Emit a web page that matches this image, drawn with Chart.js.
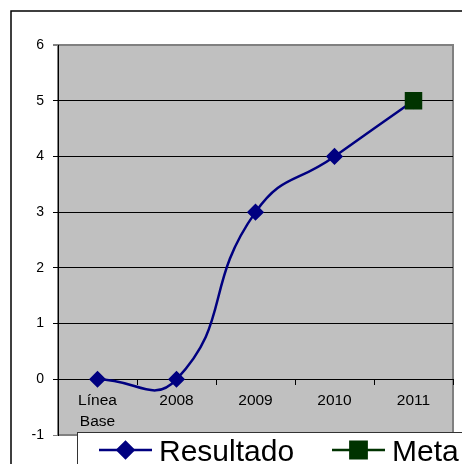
<!DOCTYPE html>
<html>
<head>
<meta charset="utf-8">
<script src="https://cdn.jsdelivr.net/npm/chart.js@4.4.0/dist/chart.umd.min.js"></script>
<style>
  html, body { margin: 0; padding: 0; background: #fff; }
  #wrap { width: 462px; height: 464px; position: relative; }
</style>
</head>
<body>
<div id="wrap"><canvas id="chart" width="462" height="464"></canvas></div>
<script>
const categories = [["Línea", "Base"], "2008", "2009", "2010", "2011"];
const resultado = [0, 0, 3, 4, 5];
const meta = [null, null, null, null, 5];
const yTicks = [-1, 0, 1, 2, 3, 4, 5, 6];

const NAVY = "#000080";
const GREEN = "#003300";

// plot background, outer frame and the grey border round the plot
const framePlugin = {
  id: "frame",
  beforeDraw(chart) {
    const { ctx, chartArea: a } = chart;
    ctx.save();
    ctx.strokeStyle = "#000";
    ctx.lineWidth = 1.5;
    ctx.strokeRect(11, 11, 600, 600);
    ctx.fillStyle = "#C0C0C0";
    ctx.fillRect(a.left, a.top, a.right - a.left, a.bottom - a.top);
    ctx.strokeStyle = "#808080";
    ctx.lineWidth = 2;
    ctx.strokeRect(a.left, a.top, a.right - a.left, a.bottom - a.top);
    ctx.restore();
  }
};

// boxed legend at the bottom, partly cut off like the original
const legendPlugin = {
  id: "boxLegend",
  afterDraw(chart) {
    const { ctx } = chart;
    ctx.save();
    ctx.fillStyle = "#fff";
    ctx.fillRect(77.5, 432.5, 500, 100);
    ctx.strokeStyle = "#333";
    ctx.lineWidth = 1;
    ctx.strokeRect(77.5, 432.5, 500, 100);

    const items = [
      { ds: chart.data.datasets[1], x: 99 },
      { ds: chart.data.datasets[0], x: 332 }
    ];
    const y = 450;
    items.forEach(({ ds, x }) => {
      ctx.strokeStyle = ds.borderColor;
      ctx.lineWidth = 2.5;
      ctx.beginPath();
      ctx.moveTo(x, y);
      ctx.lineTo(x + 53, y);
      ctx.stroke();
      Chart.helpers.drawPoint(ctx, {
        pointStyle: ds.pointStyle,
        radius: ds.pointStyle === "rect" ? 11.5 : 8,
        borderWidth: 1
      }, x + 26.5, y);
      ctx.fillStyle = ds.pointBackgroundColor;
      ctx.fill();
      ctx.fillStyle = "#000";
      ctx.font = "30px Arial, 'Liberation Sans', sans-serif";
      ctx.textBaseline = "alphabetic";
      ctx.fillText(ds.label, x + 60, 461);
    });
    ctx.restore();
  }
};

new Chart(document.getElementById("chart"), {
  type: "line",
  data: {
    labels: categories,
    datasets: [
      {
        label: "Meta",
        data: meta,
        borderColor: GREEN,
        backgroundColor: GREEN,
        pointBackgroundColor: GREEN,
        pointBorderColor: GREEN,
        pointStyle: "rect",
        pointRadius: 10.6,
        borderWidth: 2.5,
        order: 0
      },
      {
        label: "Resultado",
        data: resultado,
        borderColor: NAVY,
        backgroundColor: NAVY,
        pointBackgroundColor: NAVY,
        pointBorderColor: NAVY,
        pointStyle: "rectRot",
        pointRadius: 6.8,
        borderWidth: 2.5,
        tension: 0.5,
        order: 1
      }
    ]
  },
  options: {
    responsive: false,
    animation: false,
    events: [],
    layout: { autoPadding: false, padding: { left: 0, right: 9, top: 45, bottom: 29 } },
    plugins: {
      legend: { display: false },
      tooltip: { enabled: false }
    },
    scales: {
      x: {
        position: { y: 0 },
        offset: true,
        grid: {
          offset: true,
          drawOnChartArea: false,
          drawTicks: true,
          tickLength: 5,
          color: "#000"
        },
        border: { color: "#000", width: 1 },
        ticks: {
          color: "#000",
          padding: 6,
          maxRotation: 0,
          font: { family: "Arial, 'Liberation Sans', sans-serif", size: 15.5, lineHeight: 1.35 }
        }
      },
      y: {
        min: yTicks[0],
        max: yTicks[yTicks.length - 1],
        afterFit(scale) { scale.width = 58; },
        afterBuildTicks(scale) { scale.ticks = yTicks.map(v => ({ value: v })); },
        grid: {
          color: (c) => (c.tick && (c.tick.value === 6 || c.tick.value === -1)) ? "#808080" : "#000",
          lineWidth: (c) => (c.tick && c.tick.value === 6) ? 2 : 1,
          tickLength: 5
        },
        border: { color: "#000", width: 1 },
        ticks: {
          color: "#000",
          padding: 9,
          font: { family: "Arial, 'Liberation Sans', sans-serif", size: 14 }
        }
      }
    }
  },
  plugins: [framePlugin, legendPlugin]
});
</script>
</body>
</html>
